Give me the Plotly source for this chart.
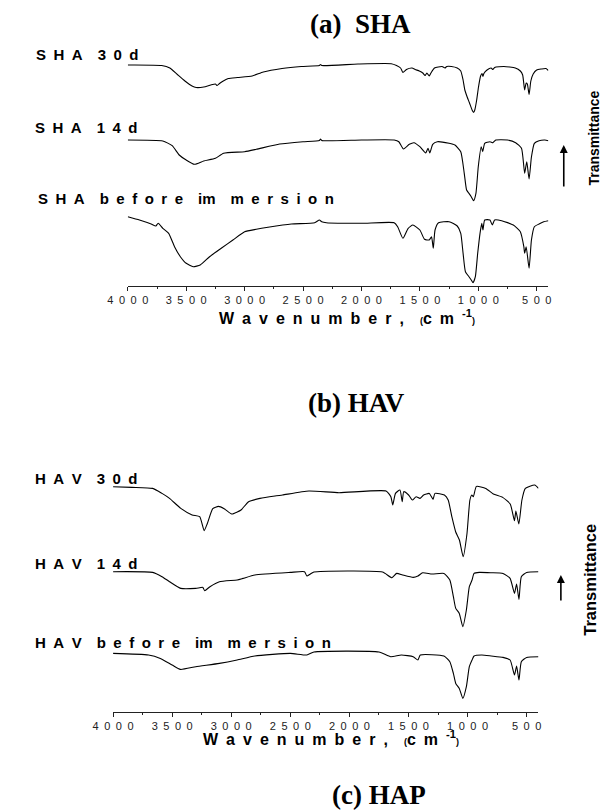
import plotly.graph_objects as go

# ---------------- data (wavenumber in cm^-1, relative transmittance in offset a.u.) -------------
# Panel (a) SHA
sha_30d_wn = [4000, 3710, 3640, 3576, 3511, 3450, 3415, 3350, 3290, 3250,
              3235, 3215, 3190, 3140, 3060, 2935, 2840, 2680, 2515, 2360,
              2350, 2340, 2030, 1745, 1700, 1665, 1645, 1615, 1567, 1540,
              1505, 1475, 1455, 1440, 1420, 1405, 1375, 1310, 1285, 1270,
              1230, 1180, 1150, 1130, 1115, 1095, 1075, 1053, 1040, 1030,
              1015, 998, 980, 968, 960, 952, 925, 890, 875, 860,
              780, 683, 640, 620, 603, 590, 580, 565, 550, 530,
              500, 460, 420, 400]
sha_30d_t = [221, 220.5, 218, 211.5, 205, 200, 198.5, 199, 201, 202,
             200.5, 202.5, 204.5, 207.5, 208.5, 210, 214, 217.5, 219.5, 220.5,
             221.5, 220.5, 222, 222.3, 220.5, 218, 213.5, 216.5, 218, 216.5,
             215, 213, 210.5, 213, 210, 213, 218, 219.5, 218, 219.5,
             219.5, 218, 215, 206, 196, 189, 183, 176, 173.5, 176,
             185, 199, 210, 212.5, 209.5, 212.5, 216, 218, 216.5, 218.5,
             219.5, 218, 215, 211, 196, 203, 202, 191.5, 205, 212,
             216, 217, 217.5, 215.5]

sha_14d_wn = [4000, 3700, 3620, 3560, 3500, 3430, 3350, 3250, 3180, 3000,
              2900, 2700, 2500, 2360, 2350, 2340, 2000, 1720, 1680, 1640,
              1590, 1550, 1500, 1450, 1430, 1415, 1390, 1350, 1250, 1200,
              1150, 1120, 1100, 1080, 1060, 1040, 1020, 1000, 975, 962,
              945, 900, 875, 850, 750, 680, 630, 603, 585, 565,
              545, 520, 480, 430, 400]
sha_14d_t = [146, 145, 140.3, 131, 126, 121.7, 125, 127.7, 132.7, 134.3,
             136.7, 142, 144.3, 145.5, 147, 145.5, 146, 146, 144.3, 137,
             141.7, 143.3, 139.3, 133, 137.7, 133, 141.7, 144.3, 142.7, 141,
             134.3, 112.7, 96, 92.7, 89.3, 85.3, 92.7, 119.3, 139.3, 134.3,
             142.7, 144.3, 143.3, 146, 146, 143.3, 137.7, 112.7, 124.3, 107,
             129, 142.7, 145.3, 146, 145.3]

sha_0d_wn = [4000, 3900, 3800, 3760, 3740, 3700, 3650, 3600, 3550, 3500,
             3440, 3380, 3300, 3200, 3100, 3000, 2900, 2800, 2600, 2400,
             2360, 2340, 2300, 2000, 1720, 1690, 1645, 1600, 1560, 1500,
             1460, 1420, 1400, 1385, 1370, 1340, 1250, 1180, 1150, 1130,
             1110, 1080, 1060, 1045, 1025, 1005, 985, 970, 960, 945,
             900, 880, 860, 800, 700, 640, 610, 603, 590, 565,
             545, 520, 480, 440, 400]
sha_0d_t = [69.3, 66, 62, 60, 62.7, 57.7, 52.7, 39.3, 29.3, 22.7,
            19.3, 21, 29.3, 37.7, 46, 54.3, 56.7, 58.7, 62, 63.3,
            66, 64.3, 63.3, 62.7, 63.3, 59.3, 47.7, 57.7, 61, 56,
            46.7, 46, 49.3, 37.7, 56, 63.3, 64.3, 60, 52.7, 32.7,
            14.3, 9.3, 6, 3.3, 9.3, 32.7, 52.7, 62.7, 56, 66,
            66, 61, 66, 65.3, 61, 54.3, 39.3, 32.7, 39.3, 17.7,
            46, 59.3, 62, 64.3, 65.3]

# Panel (b) HAV
hav_30d_wn = [4000, 3841, 3665, 3586, 3522, 3427, 3331, 3267, 3229, 3203,
              3156, 3108, 3060, 2996, 2949, 2917, 2853, 2757, 2630, 2566,
              2343, 2088, 1690, 1649, 1633, 1610, 1572, 1553, 1540, 1499,
              1467, 1435, 1403, 1372, 1324, 1292, 1276, 1196, 1164, 1133,
              1101, 1069, 1037, 1005, 980, 964, 951, 925, 846, 782,
              703, 639, 603, 591, 566, 540, 511, 432, 400]
hav_30d_t = [225, 224.3, 223.3, 218.3, 213.3, 203.3, 196.7, 195, 181, 188,
             203, 205.3, 203, 197.7, 199.7, 201.7, 210, 213.3, 215.7, 216.7,
             220.7, 219, 220.7, 215, 206.7, 218.3, 221.7, 210, 220, 216.7,
             211.7, 215, 213.3, 216.7, 218.3, 212.3, 218.3, 216.7, 211.7, 195,
             180, 171.7, 155, 178, 211.7, 216.7, 215, 225.3, 223.3, 217.7,
             214.3, 207.7, 191, 200.7, 187.7, 211.7, 223.3, 226.7, 223.3]

hav_14d_wn = [4000, 3665, 3586, 3522, 3427, 3300, 3240, 3225, 3180, 3100,
              2950, 2900, 2800, 2500, 2380, 2360, 2330, 2300, 1720, 1640,
              1600, 1550, 1460, 1420, 1380, 1300, 1200, 1150, 1120, 1100,
              1070, 1040, 1010, 985, 962, 945, 900, 800, 700, 640,
              603, 585, 565, 545, 500, 400]
hav_14d_t = [140, 139.3, 135, 130, 123.3, 123.3, 124.3, 121, 125, 130,
             131.7, 133.3, 136.7, 139.3, 140, 135.7, 137.7, 139.7, 139.7, 134,
             138.3, 136.7, 134.3, 135.7, 139, 137.7, 138.3, 131.7, 115, 103.3,
             98.3, 85, 101.7, 125, 131.7, 138.3, 139.3, 139, 138.3, 133.3,
             118.3, 127.7, 112.3, 135, 139.3, 140]

hav_0d_wn = [4000, 3700, 3600, 3500, 3430, 3300, 3100, 2950, 2800, 2500,
             2360, 2300, 1750, 1650, 1560, 1460, 1420, 1400, 1200, 1150,
             1120, 1100, 1070, 1040, 1010, 985, 962, 945, 880, 800,
             700, 640, 603, 585, 565, 545, 500, 400]
hav_0d_t = [58.3, 56.7, 53.3, 46.7, 42.3, 45, 48.3, 51.7, 55.7, 58.3,
            56.7, 59.7, 59.7, 55, 56.7, 55, 51.7, 56.7, 55.7, 50,
            38.3, 28.3, 23.3, 13.3, 25, 45, 51.7, 55.7, 56.7, 55.7,
            54.3, 51.7, 36.7, 45.7, 31.7, 50, 54.3, 55]

tick_vals = [4000, 3500, 3000, 2500, 2000, 1500, 1000, 500]
tick_text = ["4000", "3500", "3000", "2500", "2000", "1500", "1000", "500"]

panel_a_labels = ["SHA 30d", "SHA 14d", "SHA before im mersion"]
panel_b_labels = ["HAV 30d", "HAV 14d", "HAV before im mersion"]
panel_titles = ["(a)  SHA", "(b) HAV", "(c) HAP"]

# ---------------- layout helpers ----------------
W, H = 612, 810
EN = "\u2002"


def fx(p):
    return p / W


def fy(p):
    return 1 - p / H


def spaced(s, gap=EN):
    words = s.split(" ")
    out = []
    for w in words:
        toks = []
        i = 0
        while i < len(w):
            if w[i:i + 2] == "im":
                toks.append("im")
                i += 2
            else:
                toks.append(w[i])
                i += 1
        out.append(gap.join(toks))
    return (gap * 2).join(out)


fig = go.Figure()
line = dict(color="black", width=1.1)
for wn, t in [(sha_30d_wn, sha_30d_t), (sha_14d_wn, sha_14d_t), (sha_0d_wn, sha_0d_t)]:
    fig.add_trace(go.Scatter(x=wn, y=t, mode="lines", line=dict(line, shape="spline", smoothing=0.5),
                             xaxis="x", yaxis="y", showlegend=False, hoverinfo="skip"))
for wn, t in [(hav_30d_wn, hav_30d_t), (hav_14d_wn, hav_14d_t), (hav_0d_wn, hav_0d_t)]:
    fig.add_trace(go.Scatter(x=wn, y=t, mode="lines", line=dict(line, shape="spline", smoothing=0.5),
                             xaxis="x2", yaxis="y2", showlegend=False, hoverinfo="skip"))

SANS = "Liberation Sans, Arial, sans-serif"
SERIF = "Liberation Serif, Times New Roman, serif"

xa_common = dict(
    range=[4000, 400], showline=True, linecolor="#222", linewidth=1,
    ticks="outside", ticklen=4, tickcolor="#222", tickwidth=1,
    tickvals=tick_vals, ticktext=[spaced(t) for t in tick_text],
    tickfont=dict(family=SANS, size=11, color="#222"),
    showgrid=False, zeroline=False, fixedrange=True,
    minor=dict(tickmode="linear", tick0=0, dtick=250, ticks="outside", ticklen=2,
               tickcolor="#222", showgrid=False),
)

a_axis, a_top = 286, 50
b_axis, b_top = 711.7, 470
a_left, a_right = 112, 549
b_left, b_right = 96.7, 538.7

fig.update_layout(
    width=W, height=H, margin=dict(l=0, r=0, t=0, b=0),
    paper_bgcolor="white", plot_bgcolor="white", showlegend=False,
    xaxis=dict(xa_common, domain=[fx(a_left), fx(a_right)], anchor="y"),
    yaxis=dict(domain=[fy(a_axis), fy(a_top)], range=[0, a_axis - a_top], visible=False,
               fixedrange=True),
    xaxis2=dict(xa_common, domain=[fx(b_left), fx(b_right)], anchor="y2"),
    yaxis2=dict(domain=[fy(b_axis), fy(b_top)], range=[0, b_axis - b_top], visible=False,
                fixedrange=True),
)

ann = []
for txt, cx, cy in zip(panel_titles, [354, 350, 373], [24, 403, 795]):
    ann.append(dict(text="<b>%s</b>" % txt.replace("  ", "\u00a0 "), x=fx(cx), y=fy(cy),
                    xref="paper", yref="paper", xanchor="center", yanchor="middle",
                    showarrow=False, font=dict(family=SERIF, size=27, color="black")))
for txt, lx, ly in zip(panel_a_labels + panel_b_labels,
                       [15, 13, 17, 14, 14, 14], [54.5, 127.5, 198.5, 478, 563, 642]):
    ann.append(dict(text="<b>%s</b>" % spaced(txt), x=fx(lx), y=fy(ly),
                    xref="paper", yref="paper", xanchor="left", yanchor="middle",
                    showarrow=False, font=dict(family=SANS, size=15, color="black")))
xt = ("<b>" + spaced("Wavenumber,") + EN * 2 + "<span style='font-size:9px'>(</span>"
      + "c" + EN + "m" + EN + "<sup>-1</sup><span style='font-size:9px'>)</span></b>")
for cx, cy in [(340, 316.5), (323, 738)]:
    ann.append(dict(text=xt, x=fx(cx), y=fy(cy), xref="paper", yref="paper",
                    xanchor="center", yanchor="middle", showarrow=False,
                    font=dict(family=SANS, size=16, color="black")))
for cx, cy, fs in [(596, 138, 14), (592, 580, 16.5)]:
    ann.append(dict(text="<b>Transmittance</b>", x=fx(cx), y=fy(cy), xref="paper", yref="paper",
                    xanchor="center", yanchor="middle", textangle=-90, showarrow=False,
                    font=dict(family=SANS, size=fs, color="black")))
for ax_, tip, tail in [(565, 145, 188), (562, 575, 602)]:
    ann.append(dict(text="", x=fx(ax_), y=fy(tip), xref="paper", yref="paper",
                    ax=0, ay=tail - tip, axref="pixel", ayref="pixel",
                    showarrow=True, arrowhead=2, arrowsize=1, arrowwidth=1.6, arrowcolor="black"))
fig.update_layout(annotations=ann)

# remove the default 8px page margin so the figure sits at the window's top-left corner
fig.write_html("out.html", config={"displayModeBar": False},
               post_script="document.body.style.margin='0';document.body.style.overflow='hidden';")
